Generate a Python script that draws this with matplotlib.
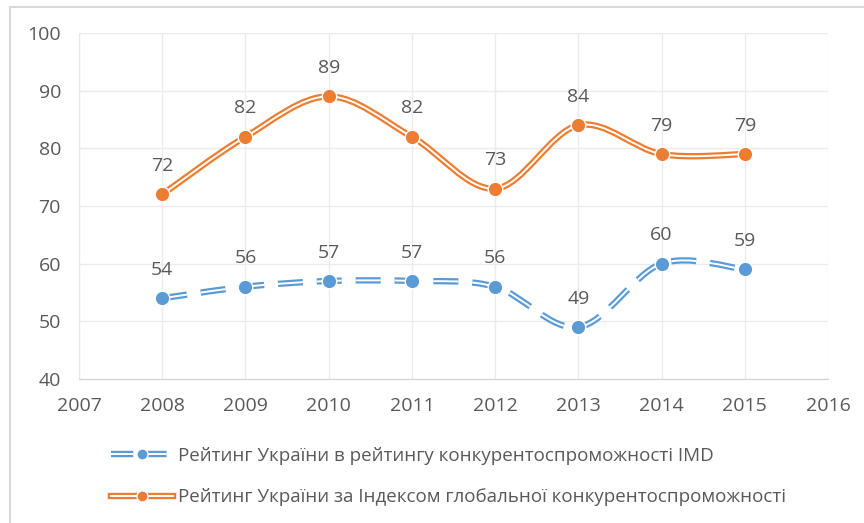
import numpy as np
import matplotlib.pyplot as plt
from matplotlib.path import Path
from matplotlib.patches import PathPatch, Rectangle
from matplotlib.lines import Line2D
from matplotlib.legend_handler import HandlerTuple

plt.rcParams['font.family'] = ['Open Sans', 'DejaVu Sans']
plt.rcParams['lines.scale_dashes'] = False

years = [2008, 2009, 2010, 2011, 2012, 2013, 2014, 2015]
imd = [54, 56, 57, 57, 56, 49, 60, 59]
gci = [72, 82, 89, 82, 73, 84, 79, 79]
labels = ['Рейтинг України в рейтингу конкурентоспроможності IMD',
          'Рейтинг України за Індексом глобальної конкурентоспроможності']

blue = '#5B9BD5'
orange = '#ED7D31'
txt = '#595959'


def smooth_path(x, y):
    # Excel-like smoothed line: cubic Bezier segments through the points
    x = np.asarray(x, float)
    y = np.asarray(y, float)
    verts = [(x[0], y[0])]
    codes = [Path.MOVETO]
    n = len(x)
    for i in range(n - 1):
        x0, y0 = (x[i - 1], y[i - 1]) if i > 0 else (x[i], y[i])
        x3, y3 = (x[i + 2], y[i + 2]) if i + 2 < n else (x[i + 1], y[i + 1])
        c1 = (x[i] + (x[i + 1] - x0) / 6, y[i] + (y[i + 1] - y0) / 6)
        c2 = (x[i + 1] - (x3 - x[i]) / 6, y[i + 1] - (y3 - y[i]) / 6)
        verts += [c1, c2, (x[i + 1], y[i + 1])]
        codes += [Path.CURVE4] * 3
    return Path(verts, codes)


fig = plt.figure(figsize=(8.64, 5.23), dpi=100)
fig.patches.append(Rectangle((10 / 864, -0.1), 1.2, 1.1 - 7 / 523,
                             transform=fig.transFigure, fill=False,
                             edgecolor='#D9D9D9', linewidth=1.5))
ax = fig.add_axes([79 / 864, 1 - 379 / 523, (828 - 79) / 864, (379 - 33) / 523])

dash = (18, 10)
for vals, col, dashed in [(imd, blue, True), (gci, orange, False)]:
    p = smooth_path(years, vals)
    outer = PathPatch(p, fill=False, edgecolor=col, linewidth=4.6,
                      capstyle='butt', zorder=3)
    inner = PathPatch(p, fill=False, edgecolor='white', linewidth=1.4,
                      capstyle='butt', zorder=4)
    if dashed:
        outer.set_linestyle((0, dash))
        inner.set_linestyle((0, dash))
    ax.add_patch(outer)
    ax.add_patch(inner)
    ax.plot(years, vals, linestyle='none', marker='o', markersize=10.5,
            markerfacecolor=col, markeredgecolor='white', markeredgewidth=1.0,
            zorder=5)
    for xv, yv in zip(years, vals):
        ax.annotate(str(yv), (xv, yv), xytext=(0, 14), textcoords='offset points',
                    ha='center', va='bottom', fontsize=14, color=txt)

ax.set_xlim(2007, 2016)
ax.set_ylim(40, 100)
ax.set_xticks(range(2007, 2017))
ax.set_yticks(range(40, 101, 10))
ax.grid(True, color='#EBEBEB', linewidth=1)
ax.set_axisbelow(True)
for s in ['top', 'right']:
    ax.spines[s].set_visible(False)
ax.spines['left'].set_color('#E6E6E6')
ax.spines['bottom'].set_color('#D0D0D0')
ax.tick_params(length=0, labelsize=14, labelcolor=txt)
ax.tick_params(axis='x', pad=13)
ax.tick_params(axis='y', pad=13)

handles = []
for col, dashed in [(blue, True), (orange, False)]:
    ls = (0, (16, 8)) if dashed else '-'
    h_out = Line2D([], [], color=col, linewidth=4.6, linestyle=ls, dash_capstyle='butt')
    h_in = Line2D([], [], color='white', linewidth=1.4, linestyle=ls, dash_capstyle='butt')
    h_mk = Line2D([], [], linestyle='none', marker='o', markersize=8,
                  markerfacecolor=col, markeredgecolor='white', markeredgewidth=1.0)
    handles.append((h_out, h_in, h_mk))

fig.legend(handles, labels, handler_map={tuple: HandlerTuple(ndivide=1)},
           loc='upper left', bbox_to_anchor=(94 / 864, 1 - 430 / 523),
           frameon=False, fontsize=13.5, labelcolor=txt, handlelength=3.3,
           handletextpad=0.3, labelspacing=1.25)

fig.savefig('out.png', dpi=100)
